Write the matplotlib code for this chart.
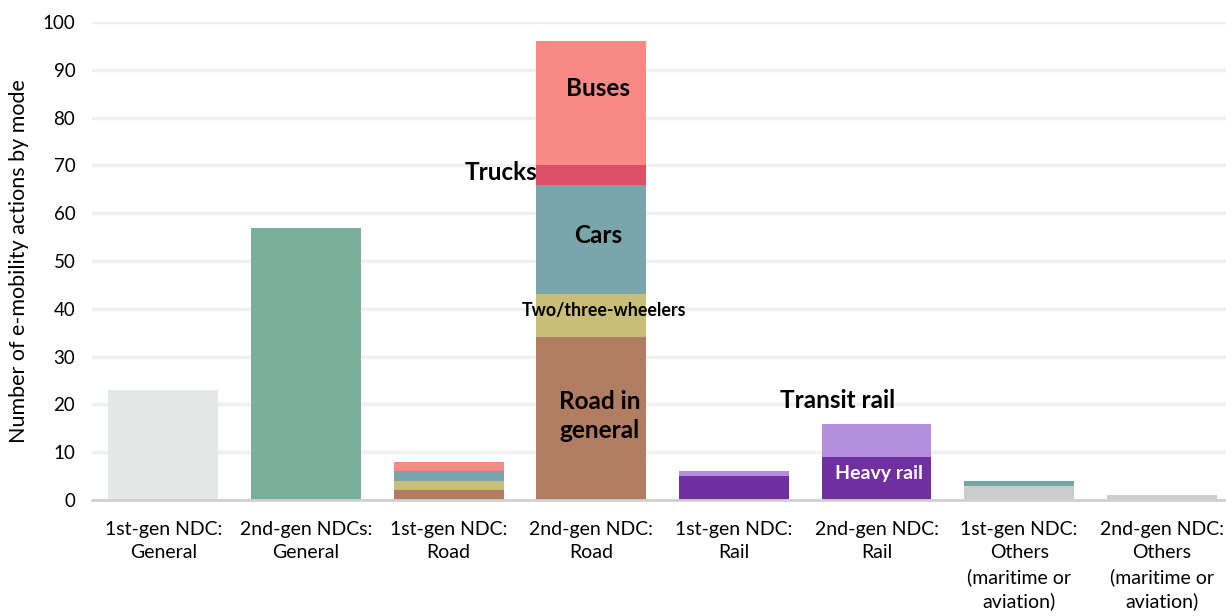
import matplotlib.pyplot as plt
import numpy as np

plt.rcParams['font.family'] = ['Lato', 'DejaVu Sans']

# data ------------------------------------------------
categories = ["1st-gen NDC:\nGeneral", "2nd-gen NDCs:\nGeneral", "1st-gen NDC:\nRoad",
              "2nd-gen NDC:\nRoad", "1st-gen NDC:\nRail", "2nd-gen NDC:\nRail",
              "1st-gen NDC:\nOthers\n(maritime or\naviation)",
              "2nd-gen NDC:\nOthers\n(maritime or\naviation)"]

general_1st = [23, 0, 0, 0, 0, 0, 0, 0]
general_2nd = [0, 57, 0, 0, 0, 0, 0, 0]
road_general = [0, 0, 2, 34, 0, 0, 0, 0]
two_three = [0, 0, 2, 9, 0, 0, 0, 0]
cars = [0, 0, 2, 23, 0, 0, 0, 0]
trucks = [0, 0, 0, 4, 0, 0, 0, 0]
buses = [0, 0, 2, 26, 0, 0, 0, 0]
heavy_rail = [0, 0, 0, 0, 5, 9, 0, 0]
transit_rail = [0, 0, 0, 0, 1, 7, 0, 0]
others_gray = [0, 0, 0, 0, 0, 0, 3, 1]
others_teal = [0, 0, 0, 0, 0, 0, 1, 0]

series = [
    (general_1st, "#E4E9E8"),
    (general_2nd, "#78AE9A"),
    (road_general, "#B07D62"),
    (two_three, "#C8BE78"),
    (cars, "#7AA6AB"),
    (trucks, "#DB5064"),
    (buses, "#F98A86"),
    (heavy_rail, "#7030A0"),
    (transit_rail, "#B48EDE"),
    (others_gray, "#CCCCCC"),
    (others_teal, "#76A5A8"),
]

# figure ----------------------------------------------
fig = plt.figure(figsize=(12.26, 6.16), dpi=100)
ax = fig.add_axes([92 / 1226, 1 - 500 / 616, 1 - 92 / 1226, (500 - 22) / 616])

x = np.arange(len(categories))
bottom = np.zeros(len(categories))
for vals, color in series:
    vals = np.array(vals, dtype=float)
    ax.bar(x, vals, width=0.77, bottom=bottom, color=color, zorder=3)
    bottom += vals

ax.set_xlim(-0.5, 7.45)
ax.set_ylim(0, 100)
ax.set_yticks(range(0, 101, 10))
ax.grid(axis='y', color='#F0F0F0', linewidth=2.5, zorder=0)
for s in ['top', 'right', 'left']:
    ax.spines[s].set_visible(False)
ax.spines['bottom'].set_color('#D0D0D0')
ax.spines['bottom'].set_linewidth(2)
ax.spines['bottom'].set_zorder(4)
ax.tick_params(axis='y', length=0, labelsize=13.5, pad=12)
ax.tick_params(axis='x', length=0, labelsize=14, pad=15)
ax.set_xticks(x)
ax.set_xticklabels(categories, va='top', linespacing=1.45)
ax.set_ylabel("Number of e-mobility actions by mode", fontsize=15.5, labelpad=10)

# labels ----------------------------------------------
ax.text(3.05, 86.0, "Buses", ha='center', va='center', fontsize=17.5, fontweight='bold')
ax.text(2.62, 68.6, "Trucks", ha='right', va='center', fontsize=17.5, fontweight='bold')
ax.text(3.05, 55.4, "Cars", ha='center', va='center', fontsize=17.5, fontweight='bold')
ax.text(3.09, 39.7, "Two/three-wheelers", ha='center', va='center', fontsize=12.8, fontweight='bold')
ax.text(3.06, 17.6, "Road in\ngeneral", ha='center', va='center', fontsize=17.5,
        fontweight='bold', linespacing=1.3)
ax.text(4.73, 20.9, "Transit rail", ha='center', va='center', fontsize=17.5, fontweight='bold')
ax.text(5.02, 5.6, "Heavy rail", ha='center', va='center', fontsize=14,
        fontweight='bold', color='white')

plt.savefig("out.png", dpi=100)
